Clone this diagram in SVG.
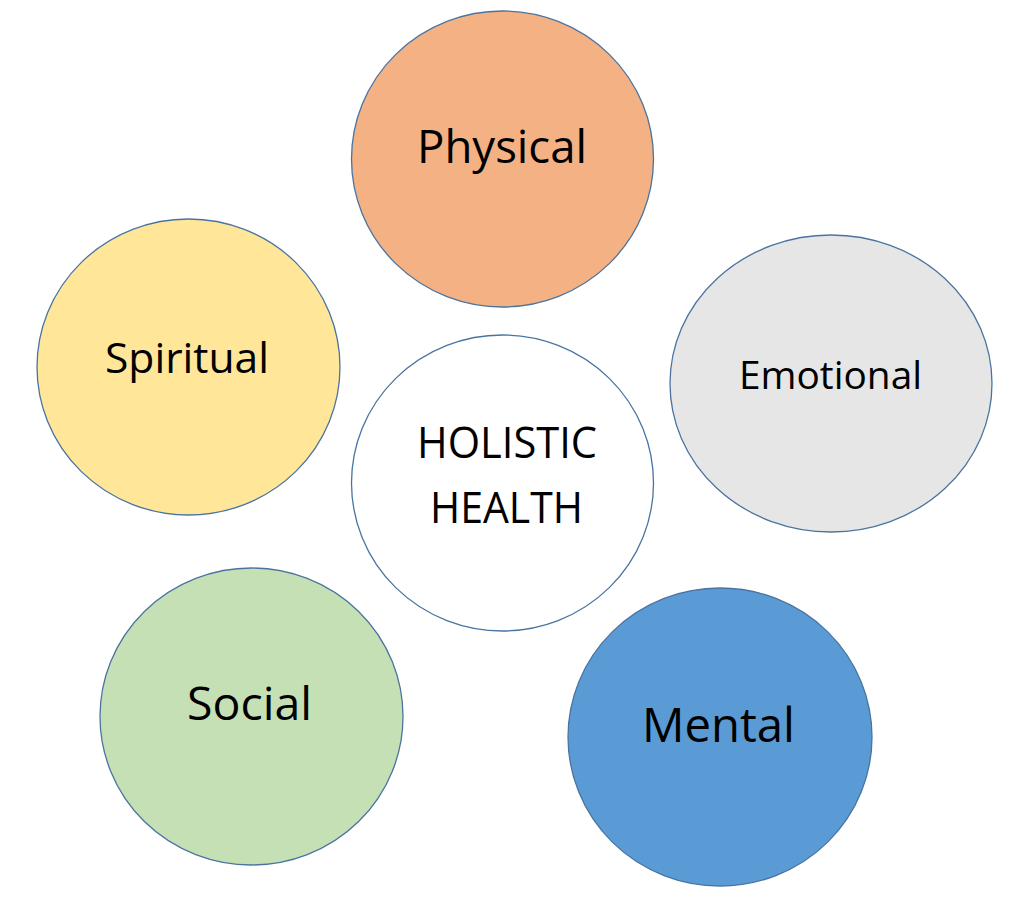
<svg xmlns="http://www.w3.org/2000/svg" width="1024" height="899" viewBox="0 0 1024 899">
<style>
.c{stroke:#4A74A0;stroke-width:1.3}
.t{font-family:"Open Sans","Liberation Sans",sans-serif;fill:#000;text-anchor:middle}
</style>
<rect width="1024" height="899" fill="#fff"/>
<g id="connectors"></g>
<g id="physical">
<ellipse class="c" cx="502.5" cy="159" rx="151" ry="148" fill="#F4B183"/>
<text class="t" x="502" y="163" font-size="45" textLength="170" lengthAdjust="spacingAndGlyphs">Physical</text>
</g>
<g id="spiritual">
<ellipse class="c" cx="188.5" cy="367" rx="151.5" ry="148" fill="#FFE699"/>
<text class="t" x="187" y="373" font-size="42" textLength="164" lengthAdjust="spacingAndGlyphs">Spiritual</text>
</g>
<g id="emotional">
<ellipse class="c" cx="831" cy="383.5" rx="161" ry="148.5" fill="#E7E6E6"/>
<text class="t" x="830.5" y="389" font-size="38" textLength="183" lengthAdjust="spacingAndGlyphs">Emotional</text>
</g>
<g id="holistic">
<ellipse class="c" cx="502.5" cy="483" rx="151" ry="148" fill="#fff"/>
<text class="t" x="507" y="458" font-size="43" textLength="180" lengthAdjust="spacingAndGlyphs">HOLISTIC</text>
<text class="t" x="506.5" y="523" font-size="43" textLength="153" lengthAdjust="spacingAndGlyphs">HEALTH</text>
</g>
<g id="social">
<ellipse class="c" cx="251.5" cy="716.5" rx="151.5" ry="148.5" fill="#C5E0B4"/>
<text class="t" x="249.5" y="720" font-size="46" textLength="125" lengthAdjust="spacingAndGlyphs">Social</text>
</g>
<g id="mental">
<ellipse class="c" cx="720" cy="737" rx="152" ry="149" fill="#5B9BD5"/>
<text class="t" x="718.5" y="742" font-size="48" textLength="153" lengthAdjust="spacingAndGlyphs">Mental</text>
</g>
</svg>
